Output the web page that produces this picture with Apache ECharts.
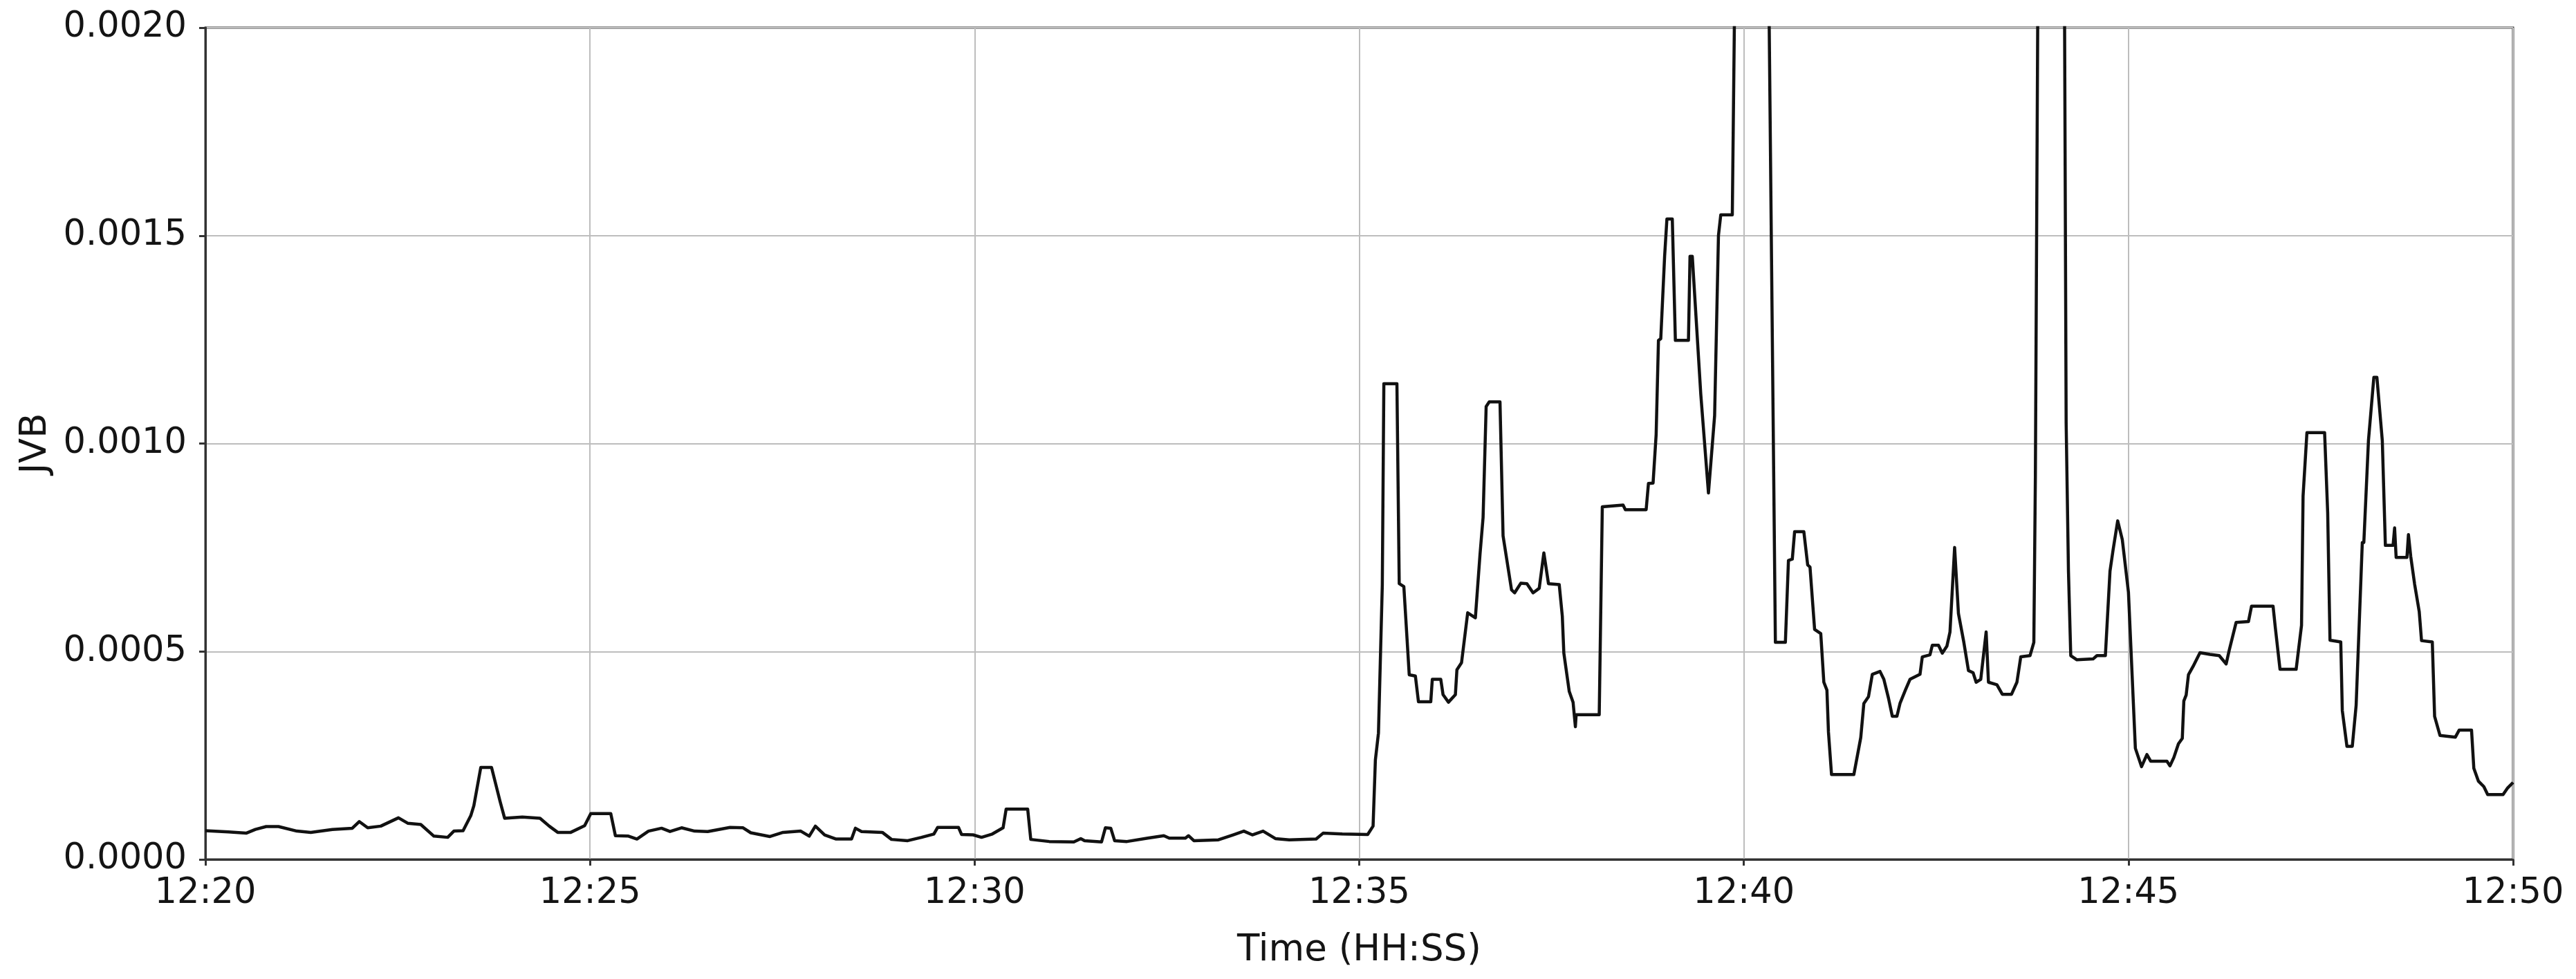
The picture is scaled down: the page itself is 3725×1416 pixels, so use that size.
<!DOCTYPE html>
<html>
<head>
<meta charset="utf-8">
<script src="https://cdn.jsdelivr.net/npm/echarts@6/dist/echarts.min.js"></script>
<style>
  html, body { margin: 0; padding: 0; background: #fff; }
  #chart { width: 3725px; height: 1416px; }
</style>
</head>
<body>
<div id="chart"></div>
<script>
// minutes after 12:20
const minutes = [
  0.00, 0.30, 0.53, 0.65, 0.79, 0.95, 1.19, 1.37, 1.65, 1.91, 2.00, 2.11, 2.28, 2.51, 2.63, 2.80,
  2.97, 3.15, 3.23, 3.35, 3.45, 3.49, 3.58, 3.72, 3.83, 3.89, 4.12, 4.35, 4.47, 4.58, 4.75, 4.93,
  5.01, 5.27, 5.33, 5.50, 5.61, 5.76, 5.93, 6.04, 6.19, 6.36, 6.53, 6.82, 6.99, 7.09, 7.34, 7.51,
  7.74, 7.85, 7.93, 8.05, 8.20, 8.40, 8.45, 8.53, 8.80, 8.92, 9.13, 9.31, 9.47, 9.52, 9.79, 9.83,
  9.98, 10.09, 10.23, 10.37, 10.41, 10.69, 10.73, 10.97, 11.29, 11.38, 11.43, 11.65, 11.70, 11.77,
  11.82, 11.98, 12.25, 12.46, 12.53, 12.74, 12.78, 12.85, 13.17, 13.36, 13.50, 13.61, 13.75, 13.91,
  14.09, 14.44, 14.53, 14.78, 15.11, 15.18, 15.21, 15.25, 15.30, 15.32, 15.49, 15.52, 15.58, 15.65,
  15.73, 15.77, 15.93, 15.95, 16.06, 16.09, 16.16, 16.25, 16.27, 16.33, 16.41, 16.51, 16.57, 16.61,
  16.65, 16.69, 16.83, 16.87, 16.98, 17.02, 17.10, 17.18, 17.26, 17.34, 17.40, 17.46, 17.60, 17.64,
  17.66, 17.73, 17.78, 17.81, 17.82, 18.12, 18.16, 18.43, 18.46, 18.73, 18.76, 18.82, 18.86, 18.89,
  18.92, 18.97, 19.00, 19.07, 19.11, 19.28, 19.30, 19.33, 19.44, 19.54, 19.62, 19.67, 19.70, 19.85,
  19.90, 20.00, 20.28, 20.33, 20.36, 20.41, 20.54, 20.58, 20.63, 20.66, 20.78, 20.83, 20.86, 20.92,
  21.00, 21.04, 21.08, 21.10, 21.14, 21.43, 21.52, 21.56, 21.62, 21.67, 21.77, 21.82, 21.88, 21.93,
  21.99, 22.03, 22.10, 22.16, 22.29, 22.32, 22.42, 22.45, 22.53, 22.58, 22.64, 22.68, 22.74, 22.79,
  22.86, 22.92, 22.98, 23.02, 23.08, 23.15, 23.18, 23.29, 23.36, 23.48, 23.55, 23.60, 23.72, 23.77,
  23.79, 23.82, 23.86, 24.14, 24.17, 24.19, 24.22, 24.25, 24.33, 24.54, 24.59, 24.70, 24.76, 24.80,
  24.86, 24.92, 25.00, 25.09, 25.17, 25.24, 25.29, 25.50, 25.54, 25.59, 25.65, 25.70, 25.72, 25.75,
  25.78, 25.84, 25.93, 26.06, 26.18, 26.27, 26.31, 26.40, 26.56, 26.60, 26.88, 26.91, 26.97, 27.18,
  27.25, 27.27, 27.32, 27.55, 27.59, 27.62, 27.76, 27.78, 27.84, 27.91, 27.96, 28.04, 28.06, 28.12,
  28.19, 28.23, 28.30, 28.34, 28.44, 28.46, 28.48, 28.62, 28.64, 28.67, 28.72, 28.78, 28.81, 28.95,
  28.98, 29.05, 29.25, 29.30, 29.46, 29.49, 29.55, 29.62, 29.67, 29.87, 29.93, 30.00
]

// JVB in units of 1e-4
const jvbE4 = [
  0.69, 0.66, 0.63, 0.72, 0.79, 0.79, 0.68, 0.65, 0.72, 0.75, 0.91, 0.76, 0.80, 1.00, 0.87, 0.84,
  0.56, 0.53, 0.68, 0.69, 1.05, 1.29, 2.21, 2.21, 1.40, 0.99, 1.02, 0.99, 0.80, 0.65, 0.65, 0.81,
  1.10, 1.10, 0.57, 0.56, 0.49, 0.68, 0.75, 0.67, 0.76, 0.68, 0.67, 0.77, 0.76, 0.64, 0.55, 0.65,
  0.68, 0.56, 0.80, 0.59, 0.49, 0.49, 0.75, 0.67, 0.65, 0.48, 0.45, 0.53, 0.61, 0.77, 0.77, 0.60,
  0.59, 0.53, 0.61, 0.76, 1.21, 1.21, 0.48, 0.43, 0.42, 0.50, 0.45, 0.42, 0.76, 0.75,
  0.45, 0.43, 0.51, 0.57, 0.51, 0.51, 0.57, 0.45, 0.47, 0.59, 0.68, 0.59, 0.68, 0.50,
  0.47, 0.49, 0.63, 0.61, 0.60, 0.80, 2.39, 3.04, 6.60, 11.44, 11.44, 6.63, 6.56, 4.44,
  4.41, 3.79, 3.79, 4.33, 4.33, 3.96, 3.78, 3.96, 4.56, 4.73, 5.93, 5.81, 7.33, 8.22,
  10.89, 11.00, 11.00, 7.78, 6.48, 6.41, 6.64, 6.63, 6.41, 6.52, 7.37, 6.63, 6.61, 5.85,
  4.96, 4.04, 3.78, 3.19, 3.48, 3.48, 8.48, 8.52, 8.41, 8.41, 9.04, 9.05, 10.22, 12.48,
  12.52, 14.50, 15.40, 15.40, 12.48, 12.48, 14.50, 14.50, 11.19, 8.81, 10.67, 15.00, 15.50, 15.50,
  24.00, 30.00, 30.00, 20.00, 14.43, 5.22, 5.22, 7.19, 7.22, 7.88, 7.88, 7.08, 7.03, 5.53,
  5.43, 4.26, 4.07, 3.06, 2.04, 2.04, 2.93, 3.75, 3.91, 4.45, 4.52, 4.33, 3.88, 3.44,
  3.44, 3.75, 4.07, 4.33, 4.45, 4.87, 4.92, 5.15, 5.15, 4.96, 5.13, 5.47, 7.50, 5.91,
  5.22, 4.54, 4.49, 4.26, 4.33, 5.47, 4.26, 4.20, 3.97, 3.97, 4.26, 4.87, 4.90, 5.22,
  9.22, 20.00, 30.00, 30.00, 20.00, 10.49, 6.93, 4.90, 4.80, 4.82, 4.90, 4.90, 6.93, 7.44,
  8.14, 7.69, 6.42, 2.67, 2.23, 2.52, 2.36, 2.36, 2.25, 2.45, 2.78, 2.91, 3.81, 3.95,
  4.44, 4.64, 4.97, 4.93, 4.90, 4.70, 5.03, 5.70, 5.72, 6.09, 6.09, 5.56, 4.57, 4.57,
  5.63, 8.74, 10.26, 10.26, 8.34, 5.27, 5.23, 3.58, 2.72, 2.72, 3.71, 7.62, 7.62, 10.07,
  11.59, 11.59, 10.07, 7.55, 7.55, 7.97, 7.26, 7.26, 7.81, 7.28, 6.62, 5.96, 5.26, 5.23,
  3.44, 2.98, 2.94, 3.11, 3.11, 2.19, 1.88, 1.75, 1.56, 1.56, 1.72, 1.85
]

const timeTicks = ['12:20', '12:25', '12:30', '12:35', '12:40', '12:45', '12:50']
const jvbTicks = ['0.0000', '0.0005', '0.0010', '0.0015', '0.0020']

const fontFamily = 'DejaVu Sans'
const textColor = '#141414'
const spineColor = '#333'

const chart = echarts.init(document.getElementById('chart'))

const data = minutes.map((m, i) => [m, jvbE4[i] * 1e-4])

chart.setOption({
  animation: false,
  backgroundColor: '#fff',
  grid: {
    left: 297,
    right: 91,
    top: 40,
    bottom: 173,
    show: true,
    borderColor: spineColor,
    borderWidth: 3
  },
  xAxis: {
    type: 'value',
    min: 0,
    max: 30,
    interval: 5,
    name: 'Time (HH:SS)',
    nameLocation: 'middle',
    nameGap: 106,
    nameTextStyle: { fontFamily, fontSize: 53, color: textColor },
    axisLine: { show: true, lineStyle: { color: spineColor, width: 3 } },
    axisTick: { show: true, length: 9, lineStyle: { color: spineColor, width: 3 } },
    axisLabel: {
      fontFamily,
      fontSize: 51,
      color: textColor,
      margin: 24,
      formatter: (v) => timeTicks[Math.round(v / 5)]
    },
    splitLine: { show: true, lineStyle: { color: '#bdbdbd', width: 2 } }
  },
  yAxis: {
    type: 'value',
    min: 0,
    max: 0.002,
    interval: 0.0005,
    name: 'JVB',
    nameLocation: 'middle',
    nameRotate: 90,
    nameGap: 218,
    nameTextStyle: { fontFamily, fontSize: 53, color: textColor },
    axisLine: { show: true, lineStyle: { color: spineColor, width: 3 } },
    axisTick: { show: true, length: 9, lineStyle: { color: spineColor, width: 3 } },
    axisLabel: {
      fontFamily,
      fontSize: 51,
      color: textColor,
      margin: 27,
      formatter: (v) => jvbTicks[Math.round(v / 0.0005)]
    },
    splitLine: { show: true, lineStyle: { color: '#bdbdbd', width: 2 } }
  },
  series: [{
    type: 'line',
    data: data,
    showSymbol: false,
    smooth: false,
    clip: true,
    lineStyle: { color: '#111', width: 4.5, join: 'round' }
  }]
})
</script>
</body>
</html>
